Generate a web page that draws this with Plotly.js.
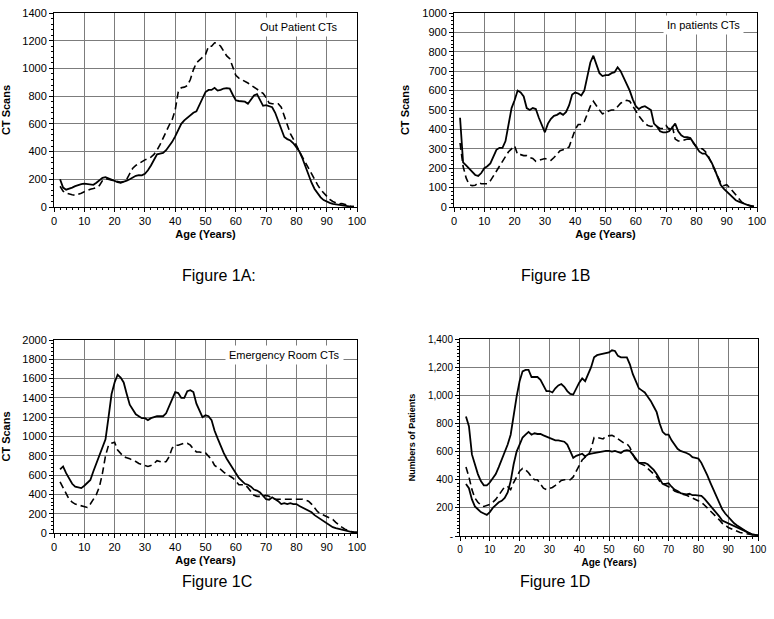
<!DOCTYPE html>
<html>
<head>
<meta charset="utf-8">
<script src="https://cdn.plot.ly/plotly-3.0.1.min.js"></script>
<style>html,body{margin:0;padding:0;background:#fff;}#chart{width:774px;height:619px;}</style>
</head>
<body>
<div id="chart"></div>
<script>
// Ages (years)
const agesAB = [2,3,4,5,6,7,8,9,10,11,12,13,14,15,16,17,18,19,20,21,22,23,24,25,26,27,28,29,30,31,32,33,34,35,36,37,38,39,40,41,42,43,44,45,46,47,48,49,50,51,52,53,54,55,56,57,58,59,60,61,62,63,64,65,66,67,68,69,70,71,72,73,74,75,76,77,78,79,80,81,82,83,84,85,86,87,88,89,90,91,92,93,94,95,96,97,98,99];
const agesCD = [2,3,4,5,6,7,8,9,10,11,12,13,14,15,16,17,18,19,20,21,22,23,24,25,26,27,28,29,30,31,32,33,34,35,36,37,38,39,40,41,42,43,44,45,46,47,48,49,50,51,52,53,54,55,56,57,58,59,60,61,62,63,64,65,66,67,68,69,70,71,72,73,74,75,76,77,78,79,80,81,82,83,84,85,86,87,88,89,90,91,92,93,94,95,96,97,98,99,100];

// Figure 1A: Out Patient CTs
const outpatientSolid = [200,140,125,130,140,150,158,165,168,165,162,160,175,190,210,215,205,198,190,180,175,180,190,200,215,225,230,228,240,265,300,340,380,385,390,410,440,470,510,560,600,625,645,665,680,690,740,790,830,845,845,860,840,845,855,858,855,810,770,765,760,760,745,780,805,815,770,730,735,730,720,680,620,560,505,490,480,460,425,400,350,290,230,175,130,95,70,50,38,30,22,18,15,12,8,5,3,2];
const outpatientDashed = [150,115,100,92,88,85,90,100,110,120,128,133,140,155,190,205,200,195,185,180,178,185,200,240,280,300,315,330,340,350,360,380,410,450,500,545,590,630,700,830,860,865,875,920,990,1040,1060,1075,1100,1160,1160,1185,1180,1160,1120,1090,1070,1010,950,930,920,910,895,880,865,850,835,820,790,750,745,745,745,720,660,590,530,490,440,400,360,320,280,240,190,160,125,100,75,55,40,30,22,25,18,10,5,3];

// Figure 1B: In patients CTs
const inpatientSolid = [460,230,215,200,180,165,160,175,200,210,225,260,295,305,305,340,420,510,550,600,590,570,510,500,510,505,460,420,385,430,455,470,475,485,475,490,525,580,590,585,575,600,680,745,780,730,690,675,680,680,690,695,720,700,665,630,600,555,520,505,515,520,510,500,430,415,390,385,385,390,410,430,390,370,360,360,355,330,305,285,275,275,255,230,195,150,115,95,80,60,45,35,28,22,15,8,4,3];
const inpatientDashed = [330,210,150,115,110,112,125,120,120,120,135,160,190,215,240,265,285,300,315,270,270,265,265,255,250,235,240,245,250,245,240,255,275,290,295,300,310,360,400,425,425,440,480,520,545,520,500,480,485,495,500,500,520,535,545,550,545,520,490,470,450,430,420,415,420,415,405,405,420,400,420,350,340,340,345,350,350,330,310,300,300,285,260,225,190,155,125,110,115,100,80,60,40,25,15,10,5,3];

// Figure 1C: Emergency Room CTs
const erSolid = [660,690,620,560,510,480,470,465,490,520,550,640,720,800,880,970,1200,1440,1560,1640,1610,1560,1440,1330,1280,1230,1210,1190,1190,1170,1190,1200,1210,1210,1210,1240,1310,1390,1460,1450,1400,1400,1470,1480,1460,1340,1270,1200,1220,1210,1170,1060,980,900,830,770,720,660,610,570,540,510,500,480,450,440,420,380,350,345,370,350,330,300,310,300,310,300,300,280,265,250,235,215,185,165,145,125,105,80,60,50,42,35,25,15,10,5,5];
const erDashed = [530,470,400,350,320,300,290,280,270,265,300,350,400,480,620,800,910,930,940,860,820,790,780,770,750,740,720,710,700,690,700,720,750,740,730,740,790,880,910,910,920,930,930,910,870,840,840,830,830,800,760,700,680,660,630,610,590,570,540,500,500,500,470,430,390,380,380,380,390,380,360,350,350,350,350,350,350,350,350,350,350,340,330,300,260,220,200,185,175,160,140,110,80,60,40,25,15,10,8];

// Figure 1D: Numbers of Patients
const patientsTop = [850,780,580,500,440,390,360,360,380,410,440,490,540,590,650,720,870,990,1100,1170,1180,1180,1130,1130,1130,1110,1070,1030,1030,1020,1050,1070,1080,1060,1030,1010,1005,1050,1090,1120,1100,1150,1200,1270,1285,1290,1295,1300,1305,1320,1315,1280,1270,1270,1270,1220,1150,1100,1050,1035,1020,990,960,920,880,800,740,720,720,680,650,620,605,600,590,580,560,555,550,520,480,430,380,330,280,230,190,160,135,110,90,75,60,45,30,20,12,8,5];
const patientsLower = [370,340,260,210,190,170,160,150,170,200,220,240,250,270,310,390,510,600,650,700,720,740,720,730,725,725,715,705,695,685,680,680,675,670,650,600,555,570,580,585,565,580,585,590,595,600,605,605,605,600,605,595,590,605,610,605,580,550,520,520,520,510,490,470,440,400,370,370,375,350,330,320,305,300,295,300,290,290,290,285,265,240,220,195,170,140,110,100,95,85,70,60,50,40,30,20,12,8,5];
const patientsDashed = [490,420,330,270,240,220,210,215,225,240,260,290,320,350,350,330,380,420,460,480,470,450,420,400,400,370,340,330,335,345,360,380,395,400,400,400,420,460,500,540,560,570,620,700,700,695,690,710,715,715,705,690,680,660,655,630,580,540,520,510,500,480,460,440,420,390,370,360,350,340,320,310,300,295,290,280,275,265,255,240,220,200,180,160,140,115,90,80,60,50,40,30,25,20,15,10,8,5,5];

// Tick labels
const xTickVals = [0,10,20,30,40,50,60,70,80,90,100];
const dTickVals = [0,200,400,600,800,1000,1200,1400];
const dTickText = ["-","200","400","600","800","1,000","1,200","1,400"];
const panelLabels = ["Out Patient CTs","In patients CTs","Emergency Room CTs"];
const captions = ["Figure 1A:","Figure 1B","Figure 1C","Figure 1D"];

const FONT = "Arial, 'Liberation Sans', sans-serif";
const GRID = '#7c7c7c';
const solid = {color:'#000', width:1.8};
const dashed = {color:'#000', width:1.6, dash:'7px,4px'};

const traces = [
  {x:agesAB, y:outpatientSolid, xaxis:'x', yaxis:'y', mode:'lines', line:solid},
  {x:agesAB, y:outpatientDashed, xaxis:'x', yaxis:'y', mode:'lines', line:dashed},
  {x:agesAB, y:inpatientSolid, xaxis:'x2', yaxis:'y2', mode:'lines', line:solid},
  {x:agesAB, y:inpatientDashed, xaxis:'x2', yaxis:'y2', mode:'lines', line:dashed},
  {x:agesCD, y:erSolid, xaxis:'x3', yaxis:'y3', mode:'lines', line:solid},
  {x:agesCD, y:erDashed, xaxis:'x3', yaxis:'y3', mode:'lines', line:dashed},
  {x:agesCD, y:patientsTop, xaxis:'x4', yaxis:'y4', mode:'lines', line:solid},
  {x:agesCD, y:patientsLower, xaxis:'x4', yaxis:'y4', mode:'lines', line:solid},
  {x:agesCD, y:patientsDashed, xaxis:'x4', yaxis:'y4', mode:'lines', line:dashed}
];

function xax(domain, anchor, fs, tfs){
  return {domain:domain, anchor:anchor, range:[0,100], tickvals:xTickVals, showline:true, mirror:true,
    linecolor:'#000', linewidth:1, ticks:'outside', ticklen:4, tickcolor:'#000',
    showgrid:true, gridcolor:GRID, gridwidth:1, zeroline:false,
    minor:{dtick:2, ticks:'outside', ticklen:2, tickcolor:'#000', showgrid:false},
    tickfont:{family:FONT, size:fs, color:'#000'},
    title:{text:'Age (Years)', font:{family:FONT, size:tfs, color:'#000', weight:'bold'}, standoff:4}};
}
function yax(domain, anchor, range, dtick, fs, title, tfs, minorDt){
  const o = {domain:domain, anchor:anchor, range:range, dtick:dtick, showline:true, mirror:true,
    linecolor:'#000', linewidth:1, ticks:'outside', ticklen:4, tickcolor:'#000',
    showgrid:true, gridcolor:GRID, gridwidth:1, zeroline:false,
    tickfont:{family:FONT, size:fs, color:'#000'},
    title:{text:title, font:{family:FONT, size:tfs, color:'#000', weight:'bold'}, standoff:10}};
  if (minorDt) o.minor = {dtick:minorDt, ticks:'outside', ticklen:2, tickcolor:'#000', showgrid:false};
  return o;
}

const yA = [1-207/619, 1-13/619];
const yC = [1-533/619, 1-340/619];
const yD = [1-536/619, 1-339/619];

const layout = {
  width:774, height:619, margin:{l:0,r:0,t:0,b:0},
  paper_bgcolor:'#fff', plot_bgcolor:'#fff', showlegend:false,
  font:{family:FONT, color:'#000'},
  xaxis: xax([54/774, 357/774], 'y', 11, 11),
  yaxis: yax(yA, 'x', [0,1400], 200, 11, 'CT Scans', 11, 40),
  xaxis2: xax([454/774, 757/774], 'y2', 11, 11),
  yaxis2: yax(yA, 'x2', [0,1000], 100, 11, 'CT Scans', 11, 20),
  xaxis3: xax([54/774, 357/774], 'y3', 11, 11),
  yaxis3: yax(yC, 'x3', [0,2000], 200, 11, 'CT Scans', 11, 40),
  xaxis4: xax([460/774, 758/774], 'y4', 10, 10),
  yaxis4: Object.assign(yax(yD, 'x4', [0,1400], 200, 10, 'Numbers of Patients', 9, 25), {tickmode:'array', tickvals:dTickVals, ticktext:dTickText}),
  annotations: [
    {xref:'x', yref:'y', x:81, y:1300, text:panelLabels[0], showarrow:false, bgcolor:'#fff', borderpad:3, font:{family:FONT, size:11, color:'#000'}},
    {xref:'x2', yref:'y2', x:82.3, y:940, text:panelLabels[1], showarrow:false, bgcolor:'#fff', borderpad:3, font:{family:FONT, size:11, color:'#000'}},
    {xref:'x3', yref:'y3', x:76, y:1845, text:panelLabels[2], showarrow:false, bgcolor:'#fff', borderpad:3, font:{family:FONT, size:11, color:'#000'}},
    {xref:'paper', yref:'paper', x:180/774, y:1-275/619, text:captions[0], showarrow:false, font:{family:FONT, size:16, color:'#000'}},
    {xref:'paper', yref:'paper', x:592/774, y:1-275/619, text:captions[1], showarrow:false, font:{family:FONT, size:16, color:'#000'}},
    {xref:'paper', yref:'paper', x:180/774, y:1-592/619, text:captions[2], showarrow:false, font:{family:FONT, size:16, color:'#000'}},
    {xref:'paper', yref:'paper', x:592/774, y:1-592/619, text:captions[3], showarrow:false, font:{family:FONT, size:16, color:'#000'}}
  ]
};

Plotly.newPlot('chart', traces, layout, {displayModeBar:false, staticPlot:true});
</script>
</body>
</html>
